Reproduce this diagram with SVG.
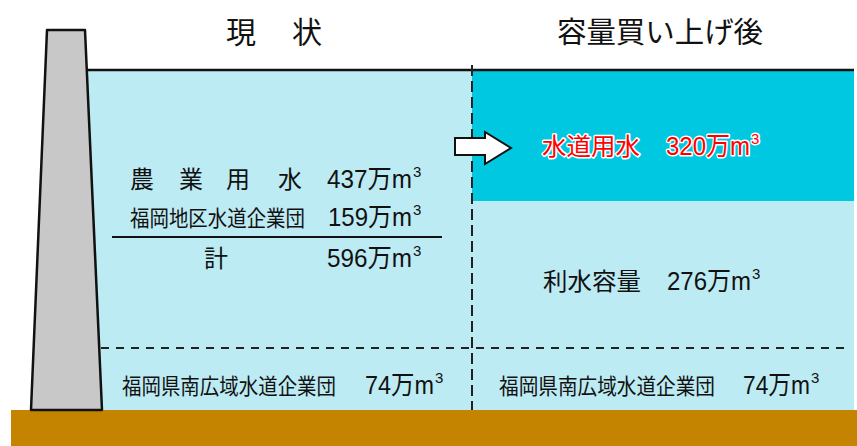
<svg xmlns="http://www.w3.org/2000/svg" width="857" height="446" viewBox="0 0 857 446">
<style>
.t{font-family:"Noto Sans CJK JP","Liberation Sans",sans-serif;fill:#111;}
.n{font-family:"Liberation Sans","Noto Sans CJK JP",sans-serif;fill:#111;font-size:26px;}
.s{font-size:15px;}
.red{fill:#ff0000;stroke:#fff;stroke-width:3;paint-order:stroke;stroke-linejoin:round;}
.dash{stroke:#222;stroke-width:2;fill:none;}
</style>
<rect width="857" height="446" fill="#fff"/>
<g id="water">
<rect x="88" y="70" width="766" height="340" fill="#bdebf3"/>
<rect x="472" y="70" width="382" height="131" fill="#00c8e0"/>
<line x1="86" y1="70" x2="854" y2="70" stroke="#111" stroke-width="2.5"/>
</g>
<g id="ground"><rect x="11" y="410" width="846" height="36" fill="#c48400"/></g>
<g id="dam"><polygon points="47,30 85,30 102,410 31,410" fill="#c8c8c8" stroke="#111" stroke-width="2.5" stroke-linejoin="round"/></g>
<g id="connectors">
<line class="dash" x1="472" y1="65" x2="472" y2="410" stroke-dasharray="11,5"/>
<line class="dash" x1="101" y1="348" x2="848" y2="348" stroke-dasharray="8,7"/>
<line x1="112" y1="237" x2="442" y2="237" stroke="#111" stroke-width="2"/>
<polygon points="455,138 485,138 485,132 511,148 485,164 485,155 455,155" fill="#fff" stroke="#111" stroke-width="2" stroke-linejoin="miter"/>
</g>
<g id="titles">
<text class="t" x="226" y="43" font-size="30">現</text>
<text class="t" x="292" y="43" font-size="30">状</text>
<text class="t" x="557" y="43" font-size="29" textLength="206" lengthAdjust="spacingAndGlyphs">容量買い上げ後</text>
</g>
<g id="current">
<text class="t" x="130 179 226 278" y="188" font-size="24">農業用水</text>
<text class="n" x="327" y="188"><tspan textLength="85" lengthAdjust="spacingAndGlyphs">437万m</tspan><tspan class="s" dx="1" dy="-11">3</tspan></text>
<text class="t" x="130" y="226" font-size="22" textLength="175" lengthAdjust="spacingAndGlyphs">福岡地区水道企業団</text>
<text class="n" x="328" y="226"><tspan textLength="84" lengthAdjust="spacingAndGlyphs">159万m</tspan><tspan class="s" dx="1" dy="-11">3</tspan></text>
<text class="t" x="204" y="267" font-size="24">計</text>
<text class="n" x="327" y="267"><tspan textLength="85" lengthAdjust="spacingAndGlyphs">596万m</tspan><tspan class="s" dx="1" dy="-11">3</tspan></text>
</g>
<g id="after">
<text class="t red" x="542" y="155" font-size="24" textLength="98" lengthAdjust="spacingAndGlyphs">水道用水</text>
<text class="n red" x="666" y="155"><tspan textLength="84" lengthAdjust="spacingAndGlyphs">320万m</tspan><tspan class="s" dx="1" dy="-11">3</tspan></text>
<text class="t" x="543" y="290" font-size="24" textLength="98" lengthAdjust="spacingAndGlyphs">利水容量</text>
<text class="n" x="667" y="290"><tspan textLength="84" lengthAdjust="spacingAndGlyphs">276万m</tspan><tspan class="s" dx="1" dy="-11">3</tspan></text>
</g>
<g id="bottom">
<text class="t" x="122" y="394" font-size="22" textLength="214" lengthAdjust="spacingAndGlyphs">福岡県南広域水道企業団</text>
<text class="n" x="365" y="394"><tspan textLength="69" lengthAdjust="spacingAndGlyphs">74万m</tspan><tspan class="s" dx="1" dy="-11">3</tspan></text>
<text class="t" x="499" y="394" font-size="22" textLength="216" lengthAdjust="spacingAndGlyphs">福岡県南広域水道企業団</text>
<text class="n" x="743" y="394"><tspan textLength="67" lengthAdjust="spacingAndGlyphs">74万m</tspan><tspan class="s" dx="1" dy="-11">3</tspan></text>
</g>
</svg>
